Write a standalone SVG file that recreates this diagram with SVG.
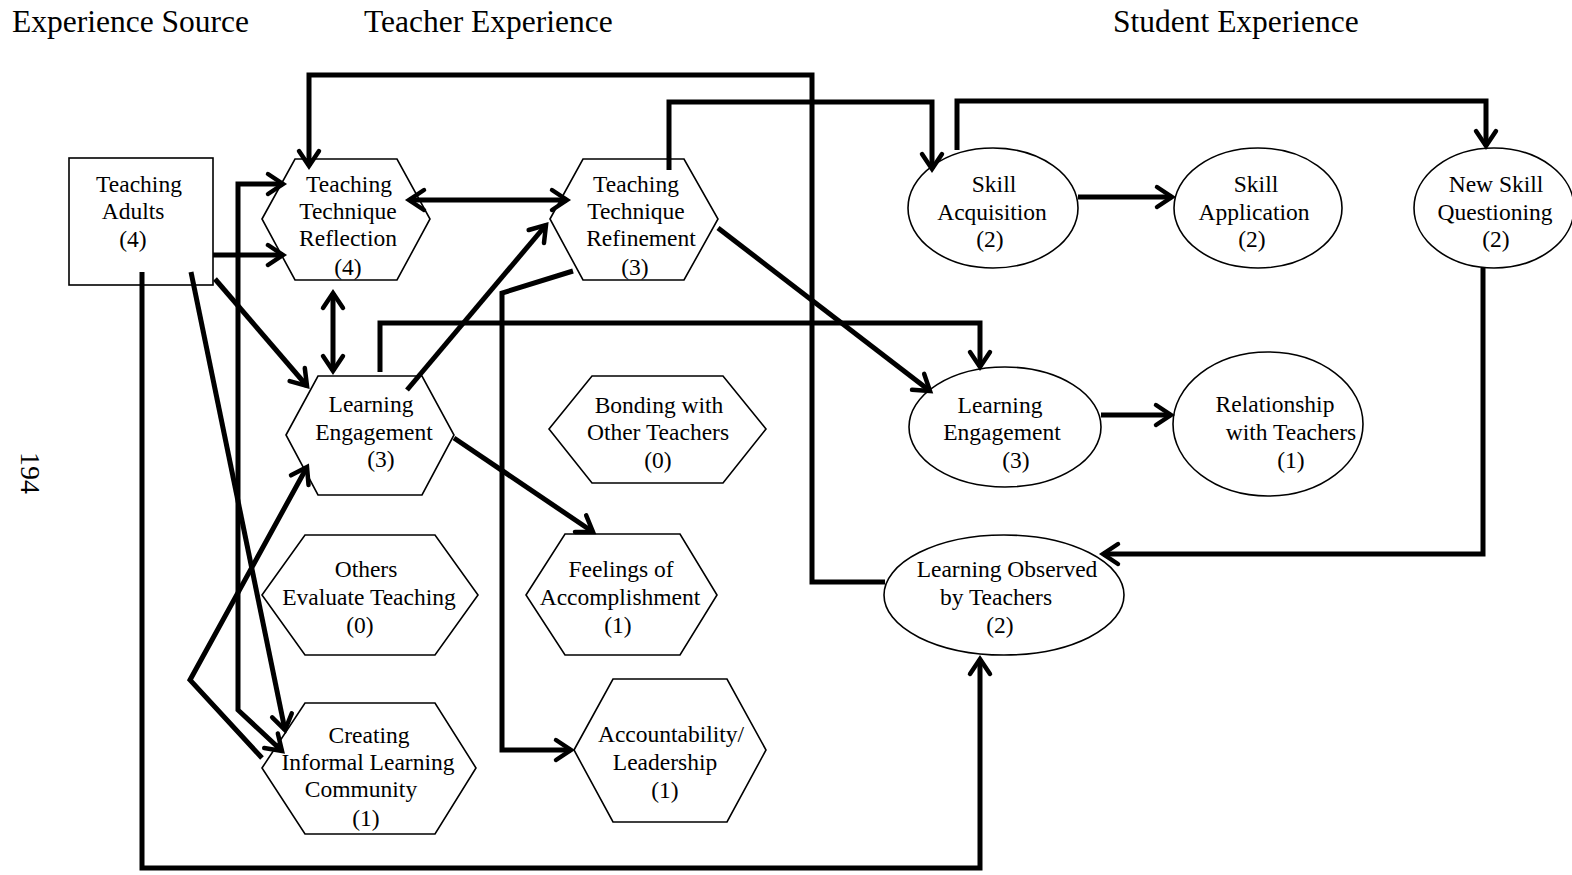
<svg xmlns="http://www.w3.org/2000/svg" width="1572" height="875" viewBox="0 0 1572 875">
<style>
.n{fill:#fff;stroke:#000;stroke-width:1.6}
.t{font-family:"Liberation Serif","Times New Roman",serif;font-size:23.5px;fill:#000;text-anchor:middle}
.h{font-family:"Liberation Serif","Times New Roman",serif;font-size:31.5px;fill:#000}
.c{fill:none;stroke:#000;stroke-width:5;stroke-linejoin:miter}
</style>
<defs>
<marker id="ah" viewBox="-22 -14 28 28" markerWidth="28" markerHeight="28" refX="0" refY="0" orient="auto-start-reverse" markerUnits="userSpaceOnUse" overflow="visible">
<path d="M-15,-10 L0,0 L-15,10" fill="none" stroke="#000" stroke-width="4.5" stroke-linecap="round"/>
</marker>
</defs>
<rect width="1572" height="875" fill="#fff"/>
<g id="headers">
<text class="h" x="12" y="32">Experience Source</text>
<text class="h" x="364" y="32">Teacher Experience</text>
<text class="h" x="1113" y="32">Student Experience</text>
<text class="h" style="font-size:28px" transform="translate(21,452) rotate(90)">194</text>
</g>
<g id="teaching-adults">
<rect class="n" x="69" y="158" width="144" height="127"/>
<text class="t" x="139" y="192">Teaching</text>
<text class="t" x="133" y="219">Adults</text>
<text class="t" x="133" y="247">(4)</text>
</g>
<g id="reflection">
<polygon class="n" points="262,219 295,159 397,159 430,219 397,280 295,280"/>
<text class="t" x="349" y="192">Teaching</text>
<text class="t" x="348" y="219">Technique</text>
<text class="t" x="348" y="246">Reflection</text>
<text class="t" x="348" y="275">(4)</text>
</g>
<g id="refinement">
<polygon class="n" points="550,219 583,159 684,159 718,219 684,280 583,280"/>
<text class="t" x="636" y="192">Teaching</text>
<text class="t" x="636" y="219">Technique</text>
<text class="t" x="641" y="246">Refinement</text>
<text class="t" x="635" y="275">(3)</text>
</g>
<g id="teacher-learning-engagement">
<polygon class="n" points="286,435 318,376 422,376 454,435 422,495 318,495"/>
<text class="t" x="371" y="412">Learning</text>
<text class="t" x="374" y="440">Engagement</text>
<text class="t" x="381" y="467">(3)</text>
</g>
<g id="bonding">
<polygon class="n" points="549,429 592,376 723,376 766,429 723,483 592,483"/>
<text class="t" x="659" y="413">Bonding with</text>
<text class="t" x="658" y="440">Other Teachers</text>
<text class="t" x="658" y="468">(0)</text>
</g>
<g id="others-evaluate">
<polygon class="n" points="262,595 305,535 435,535 478,595 435,655 305,655"/>
<text class="t" x="366" y="577">Others</text>
<text class="t" x="369" y="605">Evaluate Teaching</text>
<text class="t" x="360" y="633">(0)</text>
</g>
<g id="feelings">
<polygon class="n" points="526,595 565,534 680,534 717,595 680,655 565,655"/>
<text class="t" x="621" y="577">Feelings of</text>
<text class="t" x="620" y="605">Accomplishment</text>
<text class="t" x="618" y="633">(1)</text>
</g>
<g id="creating-community">
<polygon class="n" points="262,768 305,703 435,703 476,768 435,834 305,834"/>
<text class="t" x="369" y="743">Creating</text>
<text class="t" x="368" y="770">Informal Learning</text>
<text class="t" x="361" y="797">Community</text>
<text class="t" x="366" y="826">(1)</text>
</g>
<g id="accountability">
<polygon class="n" points="574,750 613,679 727,679 766,750 727,822 613,822"/>
<text class="t" x="671" y="742">Accountability/</text>
<text class="t" x="665" y="770">Leadership</text>
<text class="t" x="665" y="798">(1)</text>
</g>
<g id="skill-acquisition">
<ellipse class="n" cx="993" cy="208" rx="85" ry="60"/>
<text class="t" x="994" y="192">Skill</text>
<text class="t" x="992" y="220">Acquisition</text>
<text class="t" x="990" y="247">(2)</text>
</g>
<g id="skill-application">
<ellipse class="n" cx="1258" cy="208" rx="84" ry="60"/>
<text class="t" x="1256" y="192">Skill</text>
<text class="t" x="1254" y="220">Application</text>
<text class="t" x="1252" y="247">(2)</text>
</g>
<g id="new-skill-questioning">
<ellipse class="n" cx="1494" cy="208" rx="80" ry="60"/>
<text class="t" x="1496" y="192">New Skill</text>
<text class="t" x="1495" y="220">Questioning</text>
<text class="t" x="1496" y="247">(2)</text>
</g>
<g id="student-learning-engagement">
<ellipse class="n" cx="1005" cy="427" rx="96" ry="60"/>
<text class="t" x="1000" y="413">Learning</text>
<text class="t" x="1002" y="440">Engagement</text>
<text class="t" x="1016" y="468">(3)</text>
</g>
<g id="relationship">
<ellipse class="n" cx="1268" cy="424" rx="95" ry="72"/>
<text class="t" x="1275" y="412">Relationship</text>
<text class="t" x="1291" y="440">with Teachers</text>
<text class="t" x="1291" y="468">(1)</text>
</g>
<g id="learning-observed">
<ellipse class="n" cx="1004" cy="595" rx="120" ry="60"/>
<text class="t" x="1007" y="577">Learning Observed</text>
<text class="t" x="996" y="605">by Teachers</text>
<text class="t" x="1000" y="633">(2)</text>
</g>
<g id="connectors">
<path class="c" d="M213,255 L283,255" marker-end="url(#ah)"/>
<path class="c" d="M283,184 L238,184 L238,710 L282,751" marker-start="url(#ah)" marker-end="url(#ah)"/>
<path class="c" d="M215,279 L307,386" marker-end="url(#ah)"/>
<path class="c" d="M191,272 L285,730" marker-end="url(#ah)"/>
<path class="c" d="M142,272 L142,868 L980,868 L980,659" marker-end="url(#ah)"/>
<path class="c" d="M262,758 L190,680 L307,467" marker-end="url(#ah)"/>
<path class="c" d="M333,293 L333,371" marker-start="url(#ah)" marker-end="url(#ah)"/>
<path class="c" d="M409,200 L567,200" marker-start="url(#ah)" marker-end="url(#ah)"/>
<path class="c" d="M407,390 L546,225" marker-end="url(#ah)"/>
<path class="c" d="M380,372 L380,323 L980,323 L980,367" marker-end="url(#ah)"/>
<path class="c" d="M454,438 L593,532" marker-end="url(#ah)"/>
<path class="c" d="M573,271 L502,293 L502,750 L571,750" marker-end="url(#ah)"/>
<path class="c" d="M885,582 L812,582 L812,75 L309,75 L309,166" marker-end="url(#ah)"/>
<path class="c" d="M669,170 L669,102 L932,102 L932,169" marker-end="url(#ah)"/>
<path class="c" d="M718,228 L930,391" marker-end="url(#ah)"/>
<path class="c" d="M1078,197 L1172,197" marker-end="url(#ah)"/>
<path class="c" d="M957,150 L957,101 L1486,101 L1486,146" marker-end="url(#ah)"/>
<path class="c" d="M1483,268 L1483,554 L1103,554" marker-end="url(#ah)"/>
<path class="c" d="M1101,415 L1171,415" marker-end="url(#ah)"/>
</g>
</svg>
